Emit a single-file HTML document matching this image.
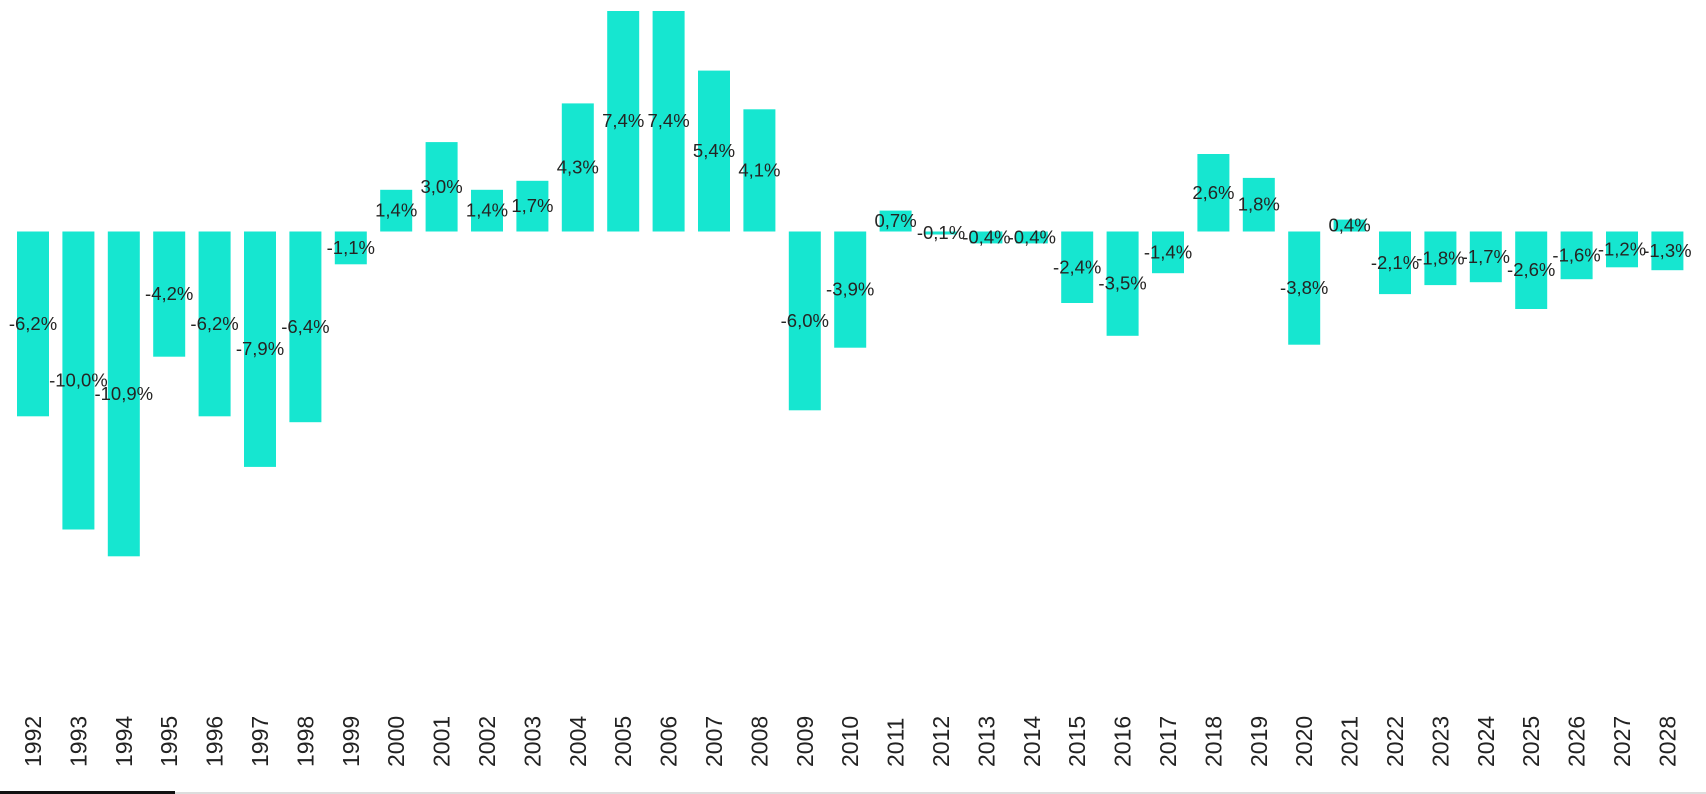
<!DOCTYPE html>
<html><head><meta charset="utf-8"><style>
html,body{margin:0;padding:0;background:#fff;width:1706px;height:794px;overflow:hidden}
svg text{font-family:"Liberation Sans",sans-serif}
</style></head><body>
<svg id="c" width="1706" height="794" xmlns="http://www.w3.org/2000/svg"></svg>
<script>
var v=[-6.2,-10.0,-10.9,-4.2,-6.2,-7.9,-6.4,-1.1,1.4,3.0,1.4,1.7,4.3,7.4,7.4,5.4,4.1,-6.0,-3.9,0.7,-0.1,-0.4,-0.4,-2.4,-3.5,-1.4,2.6,1.8,-3.8,0.4,-2.1,-1.8,-1.7,-2.6,-1.6,-1.2,-1.3];
var z=231.5,k=29.8,p=45.4,w=32,s='';
v.forEach(function(d,i){
 var x=17+i*p,h=Math.abs(d)*k,y=d>=0?z-h:z;
 s+='<rect x="'+x.toFixed(1)+'" y="'+y.toFixed(1)+'" width="'+w+'" height="'+Math.max(h,1).toFixed(1)+'" fill="#16e6d0"/>';
});
v.forEach(function(d,i){
 var cx=17+i*p+w/2,cy=d>=0?z-Math.abs(d)*k/2:z+Math.abs(d)*k/2;
 s+='<text x="'+cx.toFixed(1)+'" y="'+(cy+6).toFixed(1)+'" font-size="18.5" fill="#252423" text-anchor="middle">'+d.toFixed(1).replace('.',',')+'%</text>';
 s+='<text transform="translate('+(cx+8).toFixed(1)+',767) rotate(-90)" font-size="23" fill="#222" text-anchor="start">'+(1992+i)+'</text>';
});
s+='<rect x="0" y="791" width="175" height="3" fill="#111"/><rect x="175" y="792" width="1531" height="2" fill="#ddd"/>';
document.getElementById('c').innerHTML=s;
</script>
</body></html>
